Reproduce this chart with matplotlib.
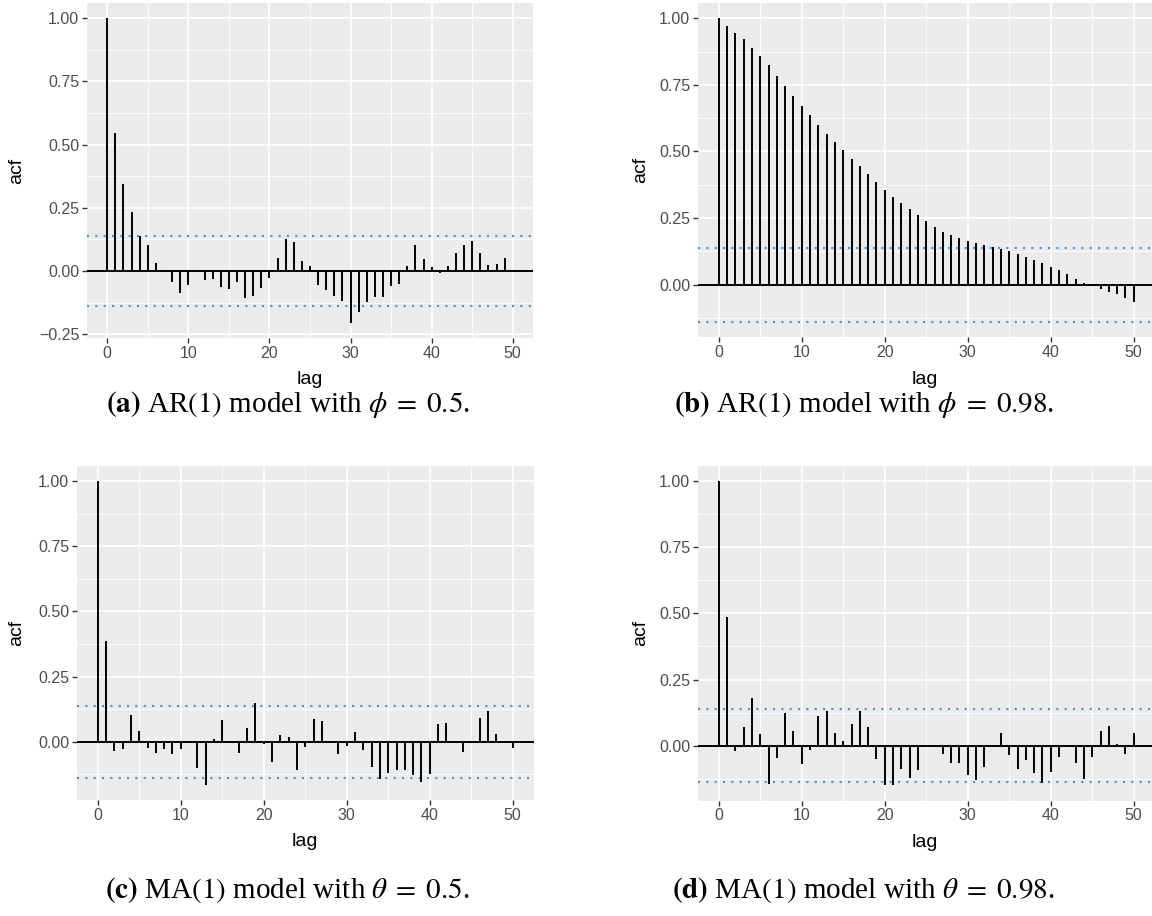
import numpy as np
import matplotlib
matplotlib.use("Agg")
import matplotlib.pyplot as plt
from matplotlib.ticker import MultipleLocator, FixedLocator

# ---------------- data ----------------
lags = list(range(0, 51))

acf_ar05 = [1.000, 0.544, 0.343, 0.234, 0.140, 0.102, 0.033, 0.005, -0.044, -0.086,
            -0.054, -0.002, -0.034, -0.030, -0.063, -0.070, -0.044, -0.107, -0.099, -0.067,
            -0.028, 0.052, 0.128, 0.116, 0.038, 0.021, -0.054, -0.077, -0.099, -0.120,
            -0.205, -0.164, -0.122, -0.104, -0.103, -0.058, -0.050, 0.020, 0.104, 0.049,
            0.017, -0.008, 0.018, 0.073, 0.104, 0.118, 0.073, 0.025, 0.028, 0.052,
            0.002]

acf_ar098 = [1.000, 0.972, 0.946, 0.921, 0.889, 0.857, 0.824, 0.782, 0.746, 0.707,
             0.671, 0.635, 0.599, 0.565, 0.536, 0.505, 0.470, 0.446, 0.415, 0.384,
             0.354, 0.329, 0.307, 0.285, 0.262, 0.239, 0.217, 0.199, 0.186, 0.176,
             0.165, 0.156, 0.150, 0.142, 0.135, 0.125, 0.115, 0.106, 0.094, 0.081,
             0.066, 0.055, 0.040, 0.022, 0.006, -0.006, -0.017, -0.027, -0.036, -0.051,
             -0.066]

acf_ma05 = [1.000, 0.385, -0.036, -0.027, 0.101, 0.042, -0.023, -0.043, -0.026, -0.045,
            -0.026, -0.003, -0.099, -0.165, 0.009, 0.082, 0.002, -0.042, 0.052, 0.149,
            -0.008, -0.077, 0.028, 0.020, -0.108, -0.019, 0.089, 0.080, -0.005, -0.048,
            -0.015, 0.037, -0.033, -0.097, -0.143, -0.121, -0.107, -0.107, -0.129, -0.156,
            -0.124, 0.069, 0.073, 0.004, -0.041, 0.005, 0.092, 0.120, 0.029, -0.005,
            -0.023]

acf_ma098 = [1.000, 0.485, -0.019, 0.072, 0.181, 0.043, -0.146, -0.045, 0.125, 0.054,
             -0.069, -0.016, 0.112, 0.131, 0.048, 0.019, 0.083, 0.132, 0.072, -0.052,
             -0.148, -0.150, -0.087, -0.122, -0.092, -0.002, 0.001, -0.031, -0.067, -0.065,
             -0.111, -0.131, -0.082, 0.001, 0.049, -0.035, -0.088, -0.054, -0.103, -0.141,
             -0.101, -0.043, -0.001, -0.064, -0.128, -0.043, 0.055, 0.074, 0.005, -0.033,
             0.048]

ci = 0.139

captions = [
    (r"$\mathbf{(a)}$ AR$(1)$ model with $\phi\;=\;0.5$.", 288, 405),
    (r"$\mathbf{(b)}$ AR$(1)$ model with $\phi\;=\;0.98$.", 864, 405),
    (r"$\mathbf{(c)}$ MA$(1)$ model with $\theta\;=\;0.5$.", 287, 890),
    (r"$\mathbf{(d)}$ MA$(1)$ model with $\theta\;=\;0.98$.", 863, 890),
]

# ---------------- figure ----------------
W, H = 1152, 916
plt.rcParams['font.family'] = ['Liberation Sans', 'DejaVu Sans']
plt.rcParams['mathtext.fontset'] = 'stix'
fig = plt.figure(figsize=(W / 100, H / 100), dpi=100)

# panel boxes in pixels: left, top, right, bottom
boxes = [
    (87, 3, 533, 338),
    (698, 3, 1152, 337),
    (77, 466, 533.5, 800),
    (698, 466, 1152, 800.5),
]
series = [acf_ar05, acf_ar098, acf_ma05, acf_ma098]
xmax = [52.5, 52.2, 52.5, 52.2]

for vals, (l, t, r, b), xm in zip(series, boxes, xmax):
    ax = fig.add_axes([l / W, 1 - b / H, (r - l) / W, (b - t) / H])
    ax.set_facecolor('#EBEBEB')
    lo = min(min(vals), -ci)
    hi = max(max(vals), ci)
    span = hi - lo
    ax.set_ylim(lo - 0.05 * span, hi + 0.05 * span)
    ax.set_xlim(-2.5, xm)

    ax.xaxis.set_major_locator(MultipleLocator(10))
    ax.xaxis.set_minor_locator(FixedLocator([5, 15, 25, 35, 45]))
    ax.yaxis.set_major_locator(MultipleLocator(0.25))
    ax.yaxis.set_minor_locator(MultipleLocator(0.125))
    ax.grid(which='major', color='white', lw=1.2)
    ax.grid(which='minor', color='white', lw=0.6)
    ax.set_axisbelow(True)
    for s in ax.spines.values():
        s.set_visible(False)
    ax.tick_params(which='major', length=3.5, width=1.0, color='#333333',
                   labelcolor='#4D4D4D', labelsize=11.5, pad=2)
    ax.tick_params(which='minor', length=0)
    ax.yaxis.set_major_formatter(matplotlib.ticker.FuncFormatter(
        lambda v, p: "%.2f" % v if v >= 0 else "\u2212%.2f" % (-v)))

    ax.axhline(ci, color='#4A90D9', lw=1.5, ls=(0, (1, 3)), zorder=2)
    ax.axhline(-ci, color='#4A90D9', lw=1.5, ls=(0, (1, 3)), zorder=2)
    ax.vlines(lags, 0, vals, color='black', lw=1.4, zorder=3)
    ax.axhline(0, color='black', lw=1.4, zorder=4)

    ax.set_xlabel('lag', fontsize=14, color='black')
    ax.set_ylabel('acf', fontsize=14, color='black')
    wpx, hpx = r - l, b - t
    ax.xaxis.set_label_coords(0.5, -42 / hpx)
    ax.xaxis.label.set_verticalalignment('center')
    lx = 17 if l < 500 else 641
    ax.yaxis.set_label_coords((lx - l) / wpx, 0.5)
    ax.yaxis.label.set_verticalalignment('center')

for txt, x, y in captions:
    fig.text(x / W, 1 - y / H, txt, ha='center', va='center',
             fontsize=21, family='Liberation Serif')

fig.savefig('out.png', dpi=100)
